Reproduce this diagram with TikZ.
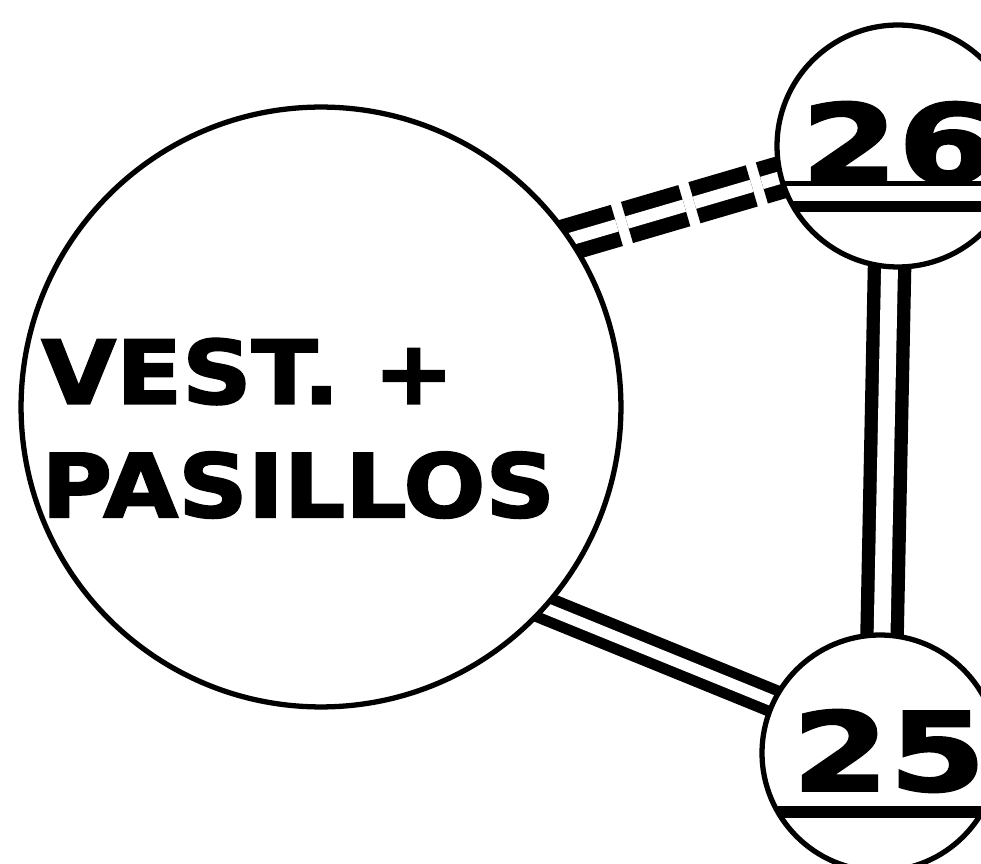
\documentclass[tikz,border=0pt]{standalone}
\usepackage{fontspec}
\newfontfamily\roomfont{DejaVu Sans}[FakeStretch=1.1, FakeBold=2.2]
\newfontfamily\numfont{DejaVu Sans}[FakeStretch=1.28, FakeBold=2.2]
\usetikzlibrary{backgrounds}

\begin{document}
\begin{tikzpicture}[
    x=0.02cm, y=-0.02cm,
    room/.style={draw, circle, fill=white, line width=3pt, inner sep=0pt, outer sep=0pt},
    bigtext/.style={font=\roomfont\bfseries\fontsize{50}{64.6}\selectfont, align=left, inner sep=0pt},
    numtext/.style={font=\numfont\bfseries\fontsize{62}{62}\selectfont, inner sep=0pt},
    link/.style={draw, line cap=butt, double=white},
    solidlink/.style={link, line width=6.2pt, double distance=6.4pt},
    vlink/.style={link, line width=7.6pt, double distance=9.6pt},
    dashlink/.style={link, line width=8.6pt, double distance=7.2pt, dash pattern=on 34pt off 6pt},
    chord/.style={draw, line width=6.8pt}
]
\useasboundingbox (0,0) rectangle (981,864);
\clip (0,0) rectangle (981,864);

% Rooms
\node[room, minimum size=12cm] (vest) at (321,407) {};
\node[bigtext, anchor=north west] (vesttext) at (41,338) {VEST. +\\PASILLOS};
\node[room, minimum size=4.84cm] (r26) at (898,146) {};
\node[numtext] (num26) at (898,143) {26};
\node[room, minimum size=4.72cm] (r25) at (880,753) {};
\node[numtext] (num25) at (889,751) {25};

% Bars under the numbers
\draw[chord] (r26.210) -- (r26.330);
\draw[chord, line width=3pt] (r26.198) -- (r26.342);
\draw[chord] (r25.210) -- (r25.330);

% Links, behind the rooms
\begin{pgfonlayer}{background}
\fill[white] (0,0) rectangle (981,864);
\draw[dashlink, shorten <=-6pt, shorten >=-6pt] (vest.34) -- (r26.195);
\draw[solidlink, shorten <=-6pt, shorten >=-6pt] (vest.-42) -- (r25.154);
\draw[vlink, shorten <=-6pt, shorten >=-6pt] (r26.-94) -- (r25.89);
\end{pgfonlayer}

\end{tikzpicture}
\end{document}
